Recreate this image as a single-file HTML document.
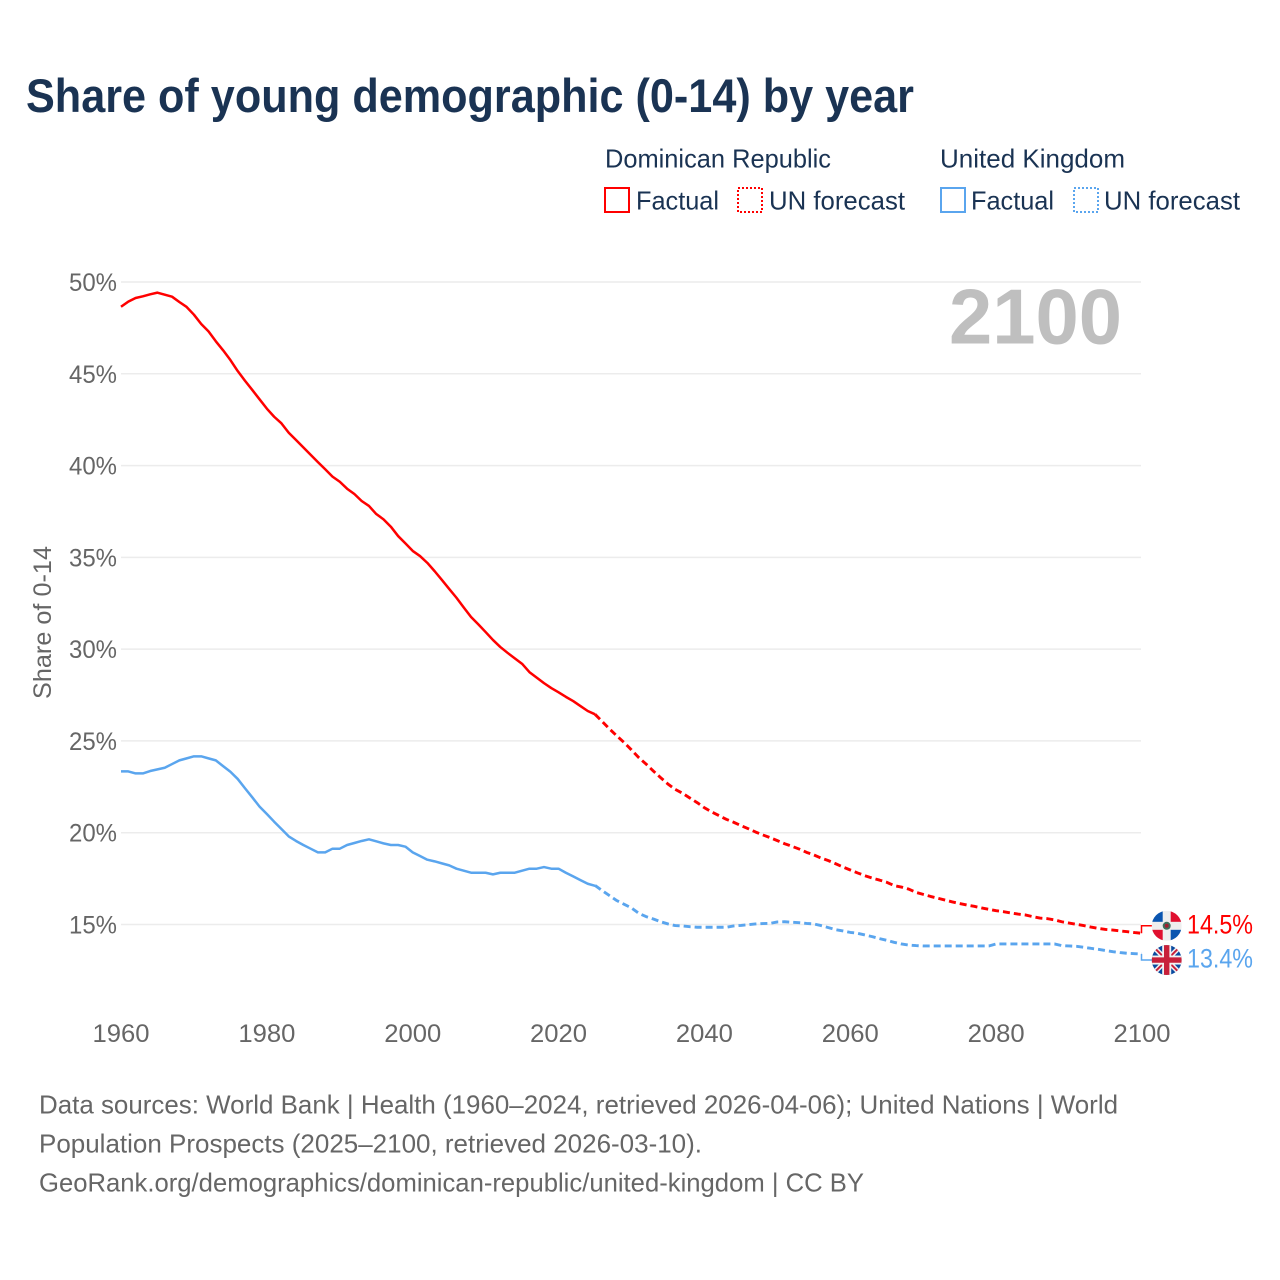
<!DOCTYPE html>
<html lang="en">
<head>
<meta charset="utf-8">
<title>Share of young demographic (0-14) by year</title>
<style>
html,body{margin:0;padding:0;background:#fff;width:1280px;height:1280px;overflow:hidden}
svg{display:block}
text{font-family:"Liberation Sans",sans-serif}
.navy{fill:#1a3353}
.grey{fill:#666}
</style>
</head>
<body>
<svg id="chart" xmlns="http://www.w3.org/2000/svg" width="1280" height="1280" viewBox="0 0 1280 1280">
  <defs>
    <clipPath id="clip-flag"><circle cx="0" cy="0" r="15"/></clipPath>
  </defs>
  <text class="navy" x="26" y="112" font-size="47" font-weight="700" textLength="888" lengthAdjust="spacingAndGlyphs">Share of young demographic (0-14) by year</text>

  <g>
    <text class="navy" x="605" y="167.5" font-size="26" textLength="226" lengthAdjust="spacingAndGlyphs">Dominican Republic</text>
    <text class="navy" x="940" y="167.5" font-size="26" textLength="185" lengthAdjust="spacingAndGlyphs">United Kingdom</text>
    <rect x="605" y="188" width="24" height="24" fill="none" stroke="#ff0000" stroke-width="2"/>
    <text class="navy" x="636" y="209.5" font-size="26" textLength="83" lengthAdjust="spacingAndGlyphs">Factual</text>
    <rect x="738" y="188" width="24" height="24" fill="none" stroke="#ff0000" stroke-width="2" stroke-dasharray="2 2"/>
    <text class="navy" x="769" y="209.5" font-size="26" textLength="136" lengthAdjust="spacingAndGlyphs">UN forecast</text>
    <rect x="941" y="188" width="24" height="24" fill="none" stroke="#5aa5ee" stroke-width="2"/>
    <text class="navy" x="971" y="209.5" font-size="26" textLength="83" lengthAdjust="spacingAndGlyphs">Factual</text>
    <rect x="1074" y="188" width="24" height="24" fill="none" stroke="#5aa5ee" stroke-width="2" stroke-dasharray="2 2"/>
    <text class="navy" x="1104" y="209.5" font-size="26" textLength="136" lengthAdjust="spacingAndGlyphs">UN forecast</text>
  </g>

  <g id="grid"></g>
  <g id="y-axis"></g>
  <g id="x-axis"></g>
  <text class="grey" transform="translate(51,699) rotate(-90)" x="0" y="0" font-size="25" textLength="153" lengthAdjust="spacingAndGlyphs">Share of 0-14</text>
  <text id="year-label" x="949" y="343.5" font-size="78" font-weight="700" fill="#bfbfbf" textLength="173" lengthAdjust="spacingAndGlyphs">2100</text>
  <g id="series"></g>
  <g id="ends"></g>

  <g>
    <text class="grey" x="39" y="1113.5" font-size="26" textLength="1079" lengthAdjust="spacingAndGlyphs">Data sources: World Bank | Health (1960–2024, retrieved 2026-04-06); United Nations | World</text>
    <text class="grey" x="39" y="1152.5" font-size="26" textLength="663" lengthAdjust="spacingAndGlyphs">Population Prospects (2025–2100, retrieved 2026-03-10).</text>
    <text class="grey" x="39" y="1191.5" font-size="26" textLength="825" lengthAdjust="spacingAndGlyphs">GeoRank.org/demographics/dominican-republic/united-kingdom | CC BY</text>
  </g>
</svg>

<script>
const xTicks = [1960, 1980, 2000, 2020, 2040, 2060, 2080, 2100];
const yTicks = [15, 20, 25, 30, 35, 40, 45, 50];
const factualStartYear = 1960;
const forecastStartYear = 2025;
const drFactual = [48.65,48.93,49.13,49.22,49.33,49.42,49.31,49.2,48.91,48.64,48.22,47.71,47.31,46.77,46.28,45.75,45.15,44.62,44.12,43.61,43.1,42.66,42.3,41.79,41.39,40.99,40.59,40.19,39.8,39.4,39.12,38.74,38.45,38.07,37.8,37.36,37.07,36.67,36.16,35.76,35.35,35.07,34.7,34.25,33.77,33.28,32.8,32.27,31.75,31.35,30.93,30.5,30.12,29.8,29.5,29.2,28.75,28.45,28.15,27.88,27.65,27.4,27.17,26.9,26.63,26.45];
const drForecast = [26.45,26.05,25.65,25.27,24.91,24.51,24.09,23.74,23.36,23.0,22.65,22.36,22.15,21.89,21.64,21.36,21.13,20.93,20.73,20.57,20.39,20.22,20.04,19.88,19.73,19.57,19.4,19.26,19.11,18.93,18.79,18.62,18.48,18.31,18.13,17.97,17.81,17.66,17.53,17.42,17.3,17.12,17.04,16.93,16.75,16.64,16.53,16.43,16.33,16.23,16.14,16.06,15.99,15.9,15.83,15.75,15.7,15.63,15.57,15.52,15.43,15.35,15.32,15.25,15.15,15.08,15.01,14.94,14.86,14.79,14.73,14.7,14.65,14.61,14.56,14.52];
const ukFactual = [23.34,23.34,23.23,23.23,23.36,23.45,23.54,23.74,23.94,24.05,24.16,24.16,24.05,23.94,23.63,23.32,22.93,22.42,21.93,21.42,21.02,20.6,20.2,19.8,19.55,19.33,19.13,18.93,18.93,19.13,19.13,19.33,19.44,19.55,19.64,19.53,19.42,19.33,19.33,19.24,18.93,18.73,18.53,18.44,18.33,18.22,18.04,17.93,17.82,17.82,17.82,17.73,17.82,17.82,17.82,17.93,18.04,18.04,18.13,18.04,18.04,17.82,17.62,17.42,17.22,17.11];
const ukForecast = [17.13,16.84,16.57,16.3,16.1,15.9,15.61,15.43,15.3,15.15,15.03,14.94,14.92,14.88,14.85,14.85,14.85,14.85,14.85,14.92,14.95,14.99,15.03,15.05,15.06,15.14,15.15,15.12,15.1,15.06,15.03,14.94,14.83,14.72,14.65,14.57,14.52,14.43,14.34,14.23,14.14,14.03,13.94,13.88,13.85,13.83,13.83,13.83,13.83,13.83,13.83,13.83,13.83,13.83,13.83,13.94,13.94,13.94,13.94,13.94,13.94,13.94,13.94,13.94,13.85,13.83,13.81,13.76,13.7,13.65,13.58,13.52,13.47,13.43,13.41,13.39];

const NS = 'http://www.w3.org/2000/svg';
const RED = '#ff0000';
const BLUE = '#5aa5ee';
const xScale = function (year) { return 121 + (year - 1960) * (1142 - 121) / 140; };
const yScale = function (v) { return 282 + (50 - v) * (924.5 - 282) / 35; };

function make(tag, attrs, parent, content) {
  const el = document.createElementNS(NS, tag);
  Object.keys(attrs).forEach(function (k) { el.setAttribute(k, attrs[k]); });
  if (content !== undefined) el.textContent = content;
  parent.appendChild(el);
  return el;
}

const gridGroup = document.getElementById('grid');
const yGroup = document.getElementById('y-axis');
const xGroup = document.getElementById('x-axis');
const seriesGroup = document.getElementById('series');
const endsGroup = document.getElementById('ends');

yTicks.forEach(function (t) {
  const line = make('line', {x1: 121, x2: 1141, y1: yScale(t), y2: yScale(t), stroke: '#ececec', 'stroke-width': 1.5}, gridGroup);
  
  
  const label = make('text', {x: 69, y: yScale(t) + 9, 'font-size': 25, fill: '#666', textLength: 48, lengthAdjust: 'spacingAndGlyphs'}, yGroup, t + '%');
  
  
});

xTicks.forEach(function (t) {
  const label = make('text', {x: xScale(t) - 28.5, y: 1042, 'font-size': 25, fill: '#666', textLength: 57, lengthAdjust: 'spacingAndGlyphs'}, xGroup, String(t));
  
  
});

function pathFrom(values, startYear) {
  return values.map(function (v, i) {
    return (i ? 'L' : 'M') + xScale(startYear + i).toFixed(2) + ' ' + yScale(v).toFixed(2);
  }).join(' ');
}

function drawLine(values, startYear, color, dashed) {
  const p = make('path', {d: pathFrom(values, startYear), fill: 'none', stroke: color, 'stroke-width': dashed ? 2.9 : 2.5, 'stroke-linejoin': 'round'}, seriesGroup);
  if (dashed) p.setAttribute('stroke-dasharray', '7 4');
  return p;
}

const drFactualLine = drawLine(drFactual, factualStartYear, RED, false);


const drForecastLine = drawLine(drForecast, forecastStartYear, RED, true);


const ukFactualLine = drawLine(ukFactual, factualStartYear, BLUE, false);


const ukForecastLine = drawLine(ukForecast, forecastStartYear, BLUE, true);



function drawEnd(values, color, offset) {
  const last = values[values.length - 1];
  const yEnd = yScale(last);
  const yFlag = yEnd + offset;
  const connector = make('path', {d: 'M1141.5 ' + yEnd + ' V' + yFlag + ' H1152', fill: 'none', stroke: color, 'stroke-width': 1.5}, endsGroup);
  
  
  const label = make('text', {x: 1187, y: yFlag + 7.5, 'font-size': 26.5, fill: color, textLength: 66, lengthAdjust: 'spacingAndGlyphs'}, endsGroup, last.toFixed(1) + '%');
  
  
  return make('g', {transform: 'translate(1166.7,' + yFlag + ')', 'clip-path': 'url(#clip-flag)'}, endsGroup);
}

const drFlag = drawEnd(drForecast, RED, -7.5);


make('rect', {x: -15, y: -15, width: 30, height: 30, fill: '#eeeeee'}, drFlag);
make('rect', {x: -15, y: -15, width: 11, height: 11, fill: '#0a55b0'}, drFlag);
make('rect', {x: 4, y: -15, width: 11, height: 11, fill: '#e0102f'}, drFlag);
make('rect', {x: -15, y: 4, width: 11, height: 11, fill: '#e0102f'}, drFlag);
make('rect', {x: 4, y: 4, width: 11, height: 11, fill: '#0a55b0'}, drFlag);
make('circle', {cx: 0, cy: 0, r: 4, fill: '#3f6f5a'}, drFlag);
make('circle', {cx: 0, cy: 0, r: 2, fill: '#a02030'}, drFlag);

const ukFlag = drawEnd(ukForecast, BLUE, 6);


make('rect', {x: -15, y: -15, width: 30, height: 30, fill: '#0a4a9f'}, ukFlag);
make('path', {d: 'M-15 -15 L15 15 M15 -15 L-15 15', stroke: '#f2f2f2', 'stroke-width': 5, fill: 'none'}, ukFlag);
make('path', {d: 'M-15 -15 L15 15 M15 -15 L-15 15', stroke: '#c8203a', 'stroke-width': 2, fill: 'none'}, ukFlag);
make('rect', {x: -15, y: -4.5, width: 30, height: 9, fill: '#f2f2f2'}, ukFlag);
make('rect', {x: -4.5, y: -15, width: 9, height: 30, fill: '#f2f2f2'}, ukFlag);
make('rect', {x: -15, y: -2.7, width: 30, height: 5.4, fill: '#c8203a'}, ukFlag);
make('rect', {x: -2.7, y: -15, width: 5.4, height: 30, fill: '#c8203a'}, ukFlag);
</script>
</body>
</html>
